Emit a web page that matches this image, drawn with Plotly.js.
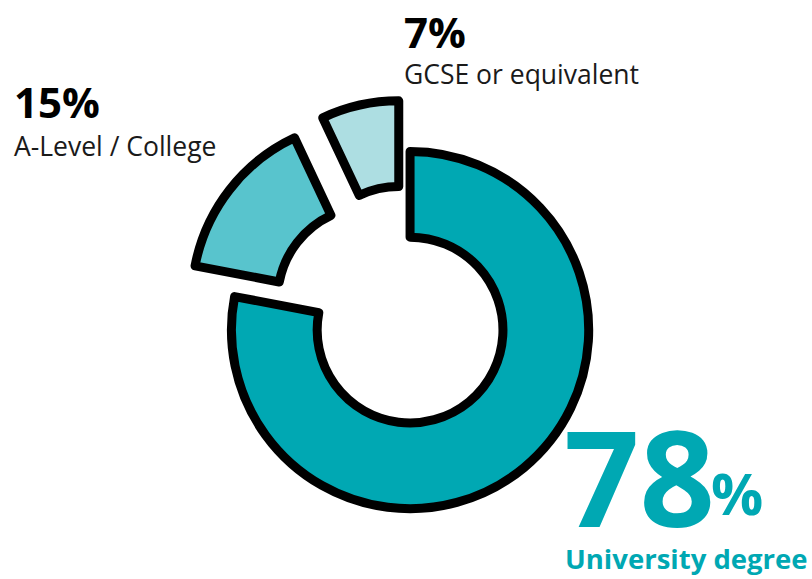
<!DOCTYPE html>
<html>
<head>
<meta charset="utf-8">
<script src="https://cdn.plot.ly/plotly-3.0.1.min.js"></script>
<style>
html,body{margin:0;padding:0;background:#fff;}
#chart{width:812px;height:579px;}
</style>
</head>
<body>
<div id="chart"></div>
<script>
const categories = ['University degree', 'A-Level / College', 'GCSE or equivalent'];
const values = [78, 15, 7];
const percentLabels = ['78', '15%', '7%'];
const sliceColors = ['#00A8B3', '#58C4CD', '#ADDEE2'];

const trace = {
  type: 'pie',
  labels: categories,
  values: values,
  sort: false,
  direction: 'clockwise',
  rotation: 0,
  hole: 0.52,
  pull: [0, 0.28, 0.29],
  textinfo: 'none',
  hoverinfo: 'none',
  marker: { colors: sliceColors, line: { color: '#000000', width: 9 } },
  domain: { x: [0.221, 0.789], y: [0.032, 0.828] }
};

const F = '"Open Sans", "Noto Sans", sans-serif';
const H = 579;
function py(px) { return 1 - px / H; }

const layout = {
  width: 812, height: 579,
  margin: { l: 0, r: 0, t: 0, b: 0 },
  paper_bgcolor: '#ffffff',
  plot_bgcolor: '#ffffff',
  showlegend: false,
  annotations: [
    { text: '<b>' + percentLabels[2] + '</b>', x: 402 / 812, y: py(31), xref: 'paper', yref: 'paper', xanchor: 'left', yanchor: 'middle', showarrow: false, font: { family: F, size: 42, color: '#000' } },
    { text: categories[2], x: 402 / 812, y: py(74), xref: 'paper', yref: 'paper', xanchor: 'left', yanchor: 'middle', showarrow: false, font: { family: F, size: 26.5, color: '#1a1a1a' } },
    { text: '<b>' + percentLabels[1] + '</b>', x: 12 / 812, y: py(102), xref: 'paper', yref: 'paper', xanchor: 'left', yanchor: 'middle', showarrow: false, font: { family: F, size: 42, color: '#000' } },
    { text: categories[1], x: 12 / 812, y: py(146), xref: 'paper', yref: 'paper', xanchor: 'left', yanchor: 'middle', showarrow: false, font: { family: F, size: 26.5, color: '#1a1a1a' } },
    { text: '<b>' + percentLabels[0] + '</b>', x: 562 / 812, y: py(476), xref: 'paper', yref: 'paper', xanchor: 'left', yanchor: 'middle', showarrow: false, font: { family: F, size: 132, color: '#00A8B3' } },
    { text: '<b>%</b>', x: 709 / 812, y: py(492), xref: 'paper', yref: 'paper', xanchor: 'left', yanchor: 'middle', showarrow: false, font: { family: F, size: 58, color: '#00A8B3' } },
    { text: '<b>' + categories[0] + '</b>', x: 563 / 812, y: py(558), xref: 'paper', yref: 'paper', xanchor: 'left', yanchor: 'middle', showarrow: false, font: { family: F, size: 27.5, color: '#00A8B3' } }
  ]
};

Plotly.newPlot('chart', [trace], layout, { displayModeBar: false, staticPlot: true });
</script>
</body>
</html>
